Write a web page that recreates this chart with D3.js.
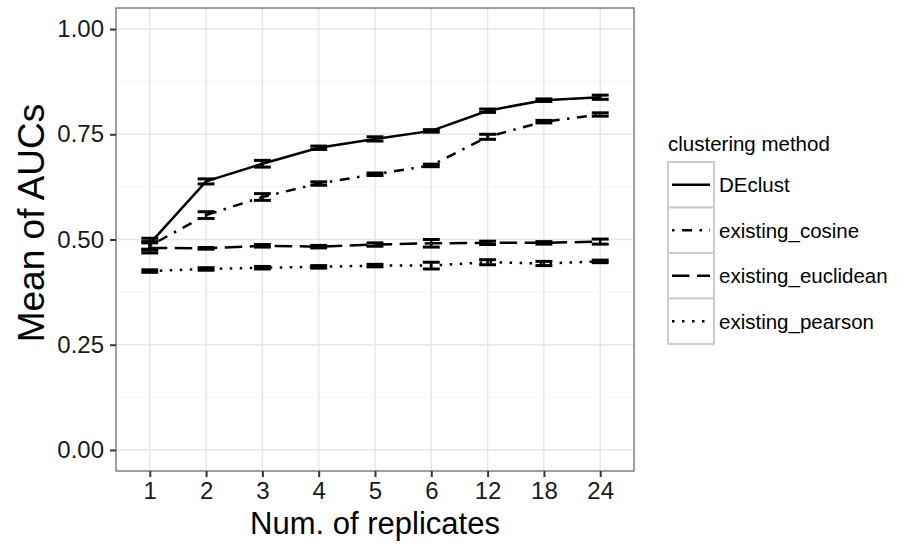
<!DOCTYPE html>
<html>
  <head>
    <meta charset="utf-8" />
    <title>Mean of AUCs by number of replicates</title>
    <script src="https://d3js.org/d3.v7.min.js"></script>
    <style>
      body { margin: 0; background: #fff; }
      text { font-family: "Liberation Sans", Arial, Helvetica, sans-serif; }
    </style>
  </head>
  <body>
    <svg id="chart" width="897" height="544"></svg>

    <script>
      // categories on the x axis
      var categories = ["1", "2", "3", "4", "5", "6", "12", "18", "24"];
      var methods = ["DEclust", "existing_cosine", "existing_euclidean", "existing_pearson"];
      var yTicks = [0, 0.25, 0.5, 0.75, 1];

      // mean AUC per method
      var declustMean = [0.490, 0.638, 0.680, 0.718, 0.739, 0.758, 0.806, 0.831, 0.838];
      var cosineMean = [0.485, 0.558, 0.601, 0.633, 0.655, 0.676, 0.744, 0.780, 0.797];
      var euclideanMean = [0.480, 0.479, 0.485, 0.483, 0.488, 0.491, 0.492, 0.492, 0.495];
      var pearsonMean = [0.425, 0.430, 0.433, 0.435, 0.438, 0.438, 0.446, 0.443, 0.448];

      // standard error half-widths
      var declustSe = [0.013, 0.006, 0.008, 0.004, 0.005, 0.003, 0.004, 0.003, 0.005];
      var cosineSe = [0.010, 0.008, 0.008, 0.004, 0.003, 0.003, 0.006, 0.003, 0.004];
      var euclideanSe = [0.012, 0.002, 0.003, 0.003, 0.004, 0.009, 0.004, 0.003, 0.006];
      var pearsonSe = [0.003, 0.003, 0.003, 0.003, 0.003, 0.008, 0.006, 0.005, 0.003];

      // R-style dash patterns, one per method
      var dashes = {
        "DEclust": null,
        "existing_cosine": "2.5,7.5,10,7.5",
        "existing_euclidean": "17.5,7.5",
        "existing_pearson": "2.5,7.5"
      };

      var series = [
        { name: methods[0], mean: declustMean, se: declustSe },
        { name: methods[1], mean: cosineMean, se: cosineSe },
        { name: methods[2], mean: euclideanMean, se: euclideanSe },
        { name: methods[3], mean: pearsonMean, se: pearsonSe }
      ];

      var panel = { left: 116, right: 634, top: 8, bottom: 471 };
      var svg = d3.select("#chart");

      var x = d3.scalePoint()
          .domain(categories)
          .range([panel.left, panel.right])
          .padding(0.6);

      var y = d3.scaleLinear()
          .domain([-0.05, 1.05])
          .range([panel.bottom, panel.top]);

      // panel background
      svg.append("rect")
          .attr("x", panel.left).attr("y", panel.top)
          .attr("width", panel.right - panel.left)
          .attr("height", panel.bottom - panel.top)
          .attr("fill", "white");

      // minor grid
      var minor = [0.125, 0.375, 0.625, 0.875];
      svg.append("g").selectAll("line")
          .data(minor).join("line")
          .attr("x1", panel.left).attr("x2", panel.right)
          .attr("y1", function(d) { return y(d); })
          .attr("y2", function(d) { return y(d); })
          .attr("stroke", "#f5f5f5").attr("stroke-width", 1.2);

      // major grid
      svg.append("g").selectAll("line")
          .data(yTicks).join("line")
          .attr("x1", panel.left).attr("x2", panel.right)
          .attr("y1", function(d) { return y(d); })
          .attr("y2", function(d) { return y(d); })
          .attr("stroke", "#e6e6e6").attr("stroke-width", 1.4);

      svg.append("g").selectAll("line")
          .data(categories).join("line")
          .attr("y1", panel.top).attr("y2", panel.bottom)
          .attr("x1", function(d) { return x(d); })
          .attr("x2", function(d) { return x(d); })
          .attr("stroke", "#e6e6e6").attr("stroke-width", 1.4);

      // lines
      var line = d3.line()
          .x(function(d, i) { return x(categories[i]); })
          .y(function(d) { return y(d); });

      svg.append("g").selectAll("path")
          .data(series).join("path")
          .attr("d", function(d) { return line(d.mean); })
          .attr("fill", "none")
          .attr("stroke", "black")
          .attr("stroke-width", 2.5)
          .attr("stroke-dasharray", function(d) { return dashes[d.name]; });

      // error bars
      var capHalf = x.step() * 0.15;
      series.forEach(function(s) {
        var g = svg.append("g");
        s.mean.forEach(function(m, i) {
          var cx = x(categories[i]);
          var lo = y(m - s.se[i]), hi = y(m + s.se[i]);
          g.append("line")
              .attr("x1", cx).attr("x2", cx)
              .attr("y1", lo).attr("y2", hi)
              .attr("stroke", "black").attr("stroke-width", 2.5);
          [lo, hi].forEach(function(yy) {
            g.append("line")
                .attr("x1", cx - capHalf).attr("x2", cx + capHalf)
                .attr("y1", yy).attr("y2", yy)
                .attr("stroke", "black").attr("stroke-width", 3);
          });
        });
      });

      // panel border
      svg.append("rect")
          .attr("x", panel.left).attr("y", panel.top)
          .attr("width", panel.right - panel.left)
          .attr("height", panel.bottom - panel.top)
          .attr("fill", "none")
          .attr("stroke", "#7f7f7f").attr("stroke-width", 1.5);

      // axes
      var yAxis = svg.append("g")
          .attr("transform", "translate(" + panel.left + ",0)")
          .call(d3.axisLeft(y).tickValues(yTicks).tickFormat(d3.format(".2f"))
                .tickSize(6).tickPadding(6));

      var xAxis = svg.append("g")
          .attr("transform", "translate(0," + panel.bottom + ")")
          .call(d3.axisBottom(x).tickSize(6).tickPadding(5));

      [xAxis, yAxis].forEach(function(a) {
        a.select(".domain").remove();
        a.selectAll(".tick line").attr("stroke", "#333").attr("stroke-width", 2);
        a.selectAll(".tick text")
            .attr("fill", "#1a1a1a")
            .style("font-size", "24px")
            .style("font-family", "'Liberation Sans', Arial, sans-serif");
      });

      // axis titles
      svg.append("text")
          .attr("x", (panel.left + panel.right) / 2)
          .attr("y", 534)
          .attr("text-anchor", "middle")
          .style("font-size", "31px")
          .attr("fill", "black")
          .text("Num. of replicates");

      svg.append("text")
          .attr("transform", "translate(44,223) rotate(-90)")
          .attr("text-anchor", "middle")
          .style("font-size", "37px")
          .attr("fill", "black")
          .text("Mean of AUCs");

      // legend
      var legend = svg.append("g").attr("transform", "translate(668,151)");
      legend.append("text")
          .attr("x", 0).attr("y", 0)
          .style("font-size", "20.5px")
          .attr("fill", "black")
          .text("clustering method");

      var keyH = 45.5, keyW = 46;
      var keys = legend.selectAll("g.key")
          .data(methods).join("g")
          .attr("class", "key")
          .attr("transform", function(d, i) { return "translate(0," + (11 + i * keyH) + ")"; });

      keys.append("rect")
          .attr("width", keyW).attr("height", keyH)
          .attr("fill", "white")
          .attr("stroke", "#cccccc").attr("stroke-width", 2);

      keys.append("line")
          .attr("x1", 4).attr("x2", keyW - 4)
          .attr("y1", keyH / 2).attr("y2", keyH / 2)
          .attr("stroke", "black").attr("stroke-width", 2.5)
          .attr("stroke-dasharray", function(d) { return dashes[d]; });

      keys.append("text")
          .attr("x", keyW + 5)
          .attr("y", keyH / 2 + 7.5)
          .style("font-size", "20.5px")
          .attr("fill", "black")
          .text(function(d) { return d; });
    </script>
  </body>
</html>
